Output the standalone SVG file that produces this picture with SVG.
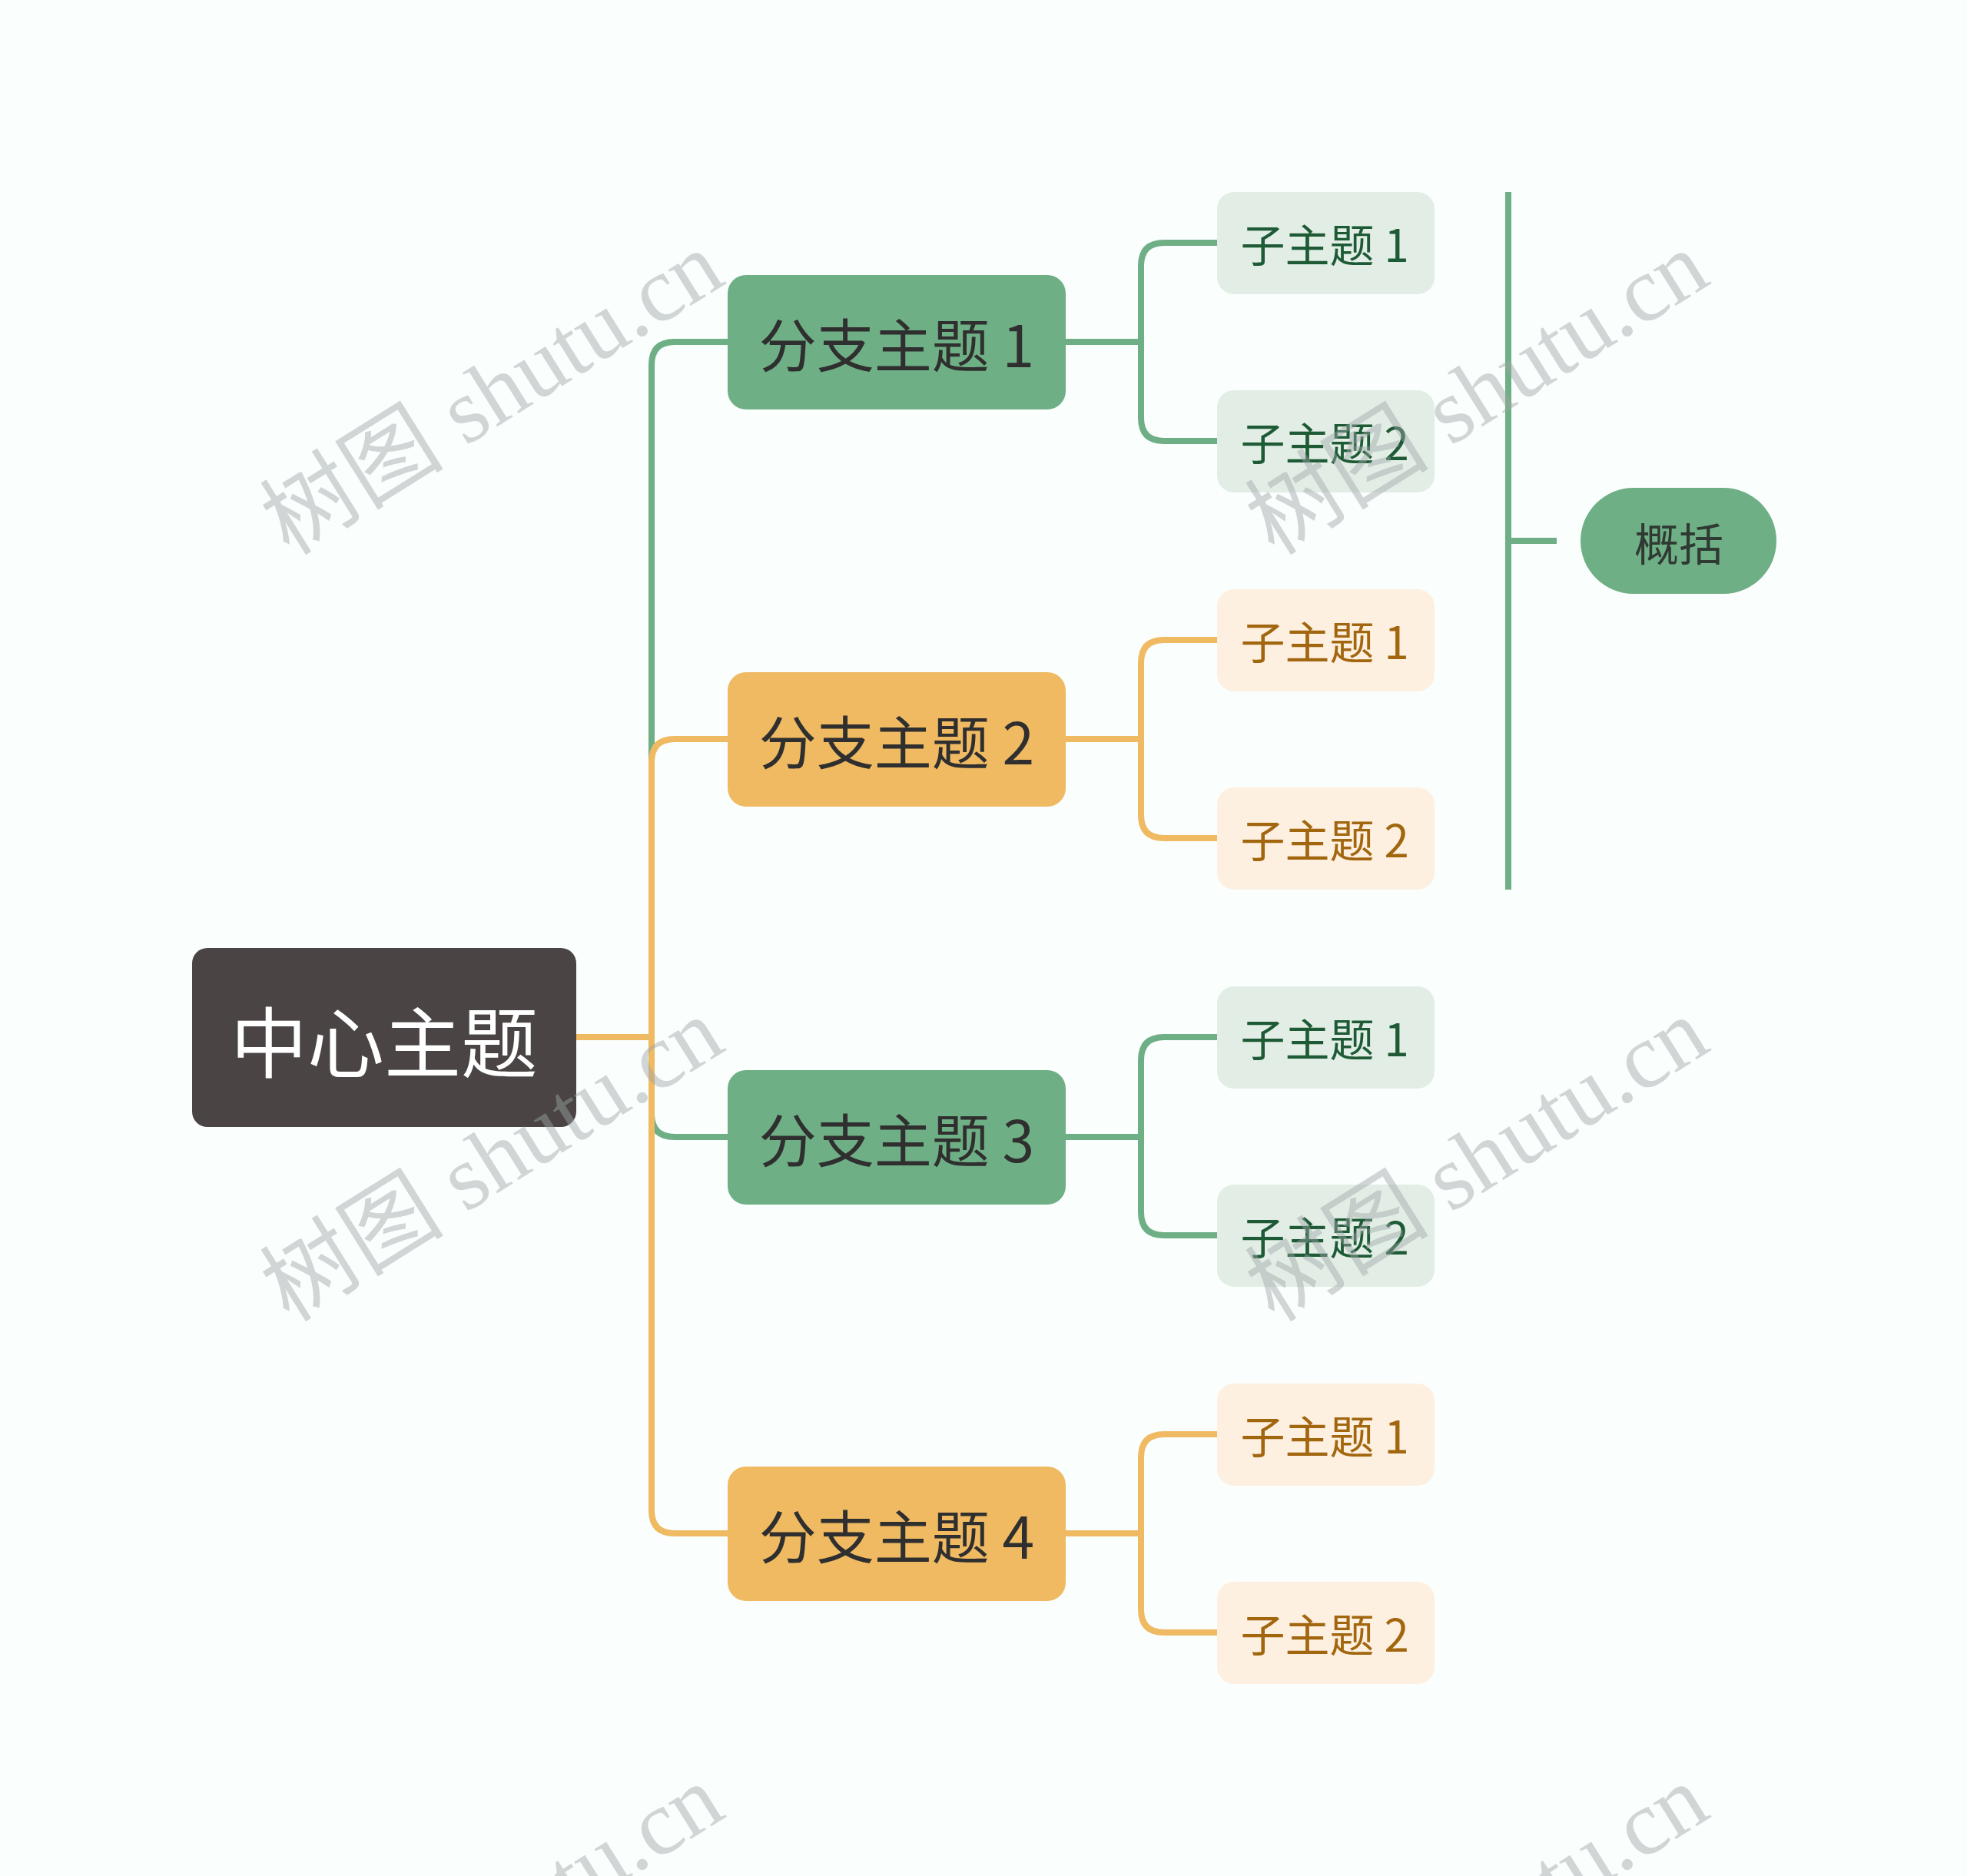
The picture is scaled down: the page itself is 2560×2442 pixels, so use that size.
<svg xmlns="http://www.w3.org/2000/svg" width="2560" height="2442" viewBox="0 0 2560 2442">
<style>
.bg{fill:#FAFEFD}
.cn{fill:none;stroke-width:8;stroke-linecap:butt;stroke-linejoin:round}
.g{stroke:#6FAF85}
.o{stroke:#EFBA62}
.t{font-family:"Noto Sans CJK SC","Noto Sans",sans-serif;text-anchor:middle;dominant-baseline:central}
.center rect{fill:#4A4544}
.center text{fill:#FFFFFF;font-size:100px}
.bg1 rect{fill:#6FAF85}
.bo rect{fill:#EFBA62}
.br text{fill:#2F2F2F;font-size:75px}
.sg rect{fill:#E2EEE5}
.sg text{fill:#1D5A35;font-size:58px}
.so rect{fill:#FDF0E0}
.so text{fill:#A2660F;font-size:58px}
.sum rect{fill:#6FAF85}
.sum text{fill:#2F3A33;font-size:58px}
.wm{font-family:"Liberation Serif","Noto Sans CJK SC",serif;font-size:120px;fill:#9DA3A7;fill-opacity:0.45;text-anchor:middle}
</style>
<rect class="bg" x="0" y="0" width="2560" height="2442"/>
<g id="connectors">
  <path class="cn g" d="M947,445 H878 Q848,445 848,475 V1450 Q848,1480 878,1480 H947"/>
  <path class="cn o" d="M749,1350 H848"/>
  <path class="cn o" d="M947,962 H878 Q848,962 848,992 V1966 Q848,1996 878,1996 H947"/>
  <path class="cn g" d="M1386,445 H1485"/>
  <path class="cn g" d="M1584,316 H1515 Q1485,316 1485,346 V544 Q1485,574 1515,574 H1584"/>
  <path class="cn o" d="M1386,962 H1485"/>
  <path class="cn o" d="M1584,833 H1515 Q1485,833 1485,863 V1061 Q1485,1091 1515,1091 H1584"/>
  <path class="cn g" d="M1386,1480 H1485"/>
  <path class="cn g" d="M1584,1350 H1515 Q1485,1350 1485,1380 V1578 Q1485,1608 1515,1608 H1584"/>
  <path class="cn o" d="M1386,1996 H1485"/>
  <path class="cn o" d="M1584,1867 H1515 Q1485,1867 1485,1897 V2095 Q1485,2125 1515,2125 H1584"/>
  <path class="cn g" stroke-width="7" d="M1963,250 V1158 M1963,704 H2026"/>
</g>
<g id="center" class="center">
  <rect x="250" y="1234" width="500" height="233" rx="20"/>
  <text class="t" x="500" y="1351">中心主题</text>
</g>
<g id="branch1" class="br bg1">
  <rect x="947" y="358" width="440" height="175" rx="24"/>
  <text class="t" x="1167" y="445">分支主题 1</text>
</g>
<g id="branch2" class="br bo">
  <rect x="947" y="875" width="440" height="175" rx="24"/>
  <text class="t" x="1167" y="962">分支主题 2</text>
</g>
<g id="branch3" class="br bg1">
  <rect x="947" y="1393" width="440" height="175" rx="24"/>
  <text class="t" x="1167" y="1480">分支主题 3</text>
</g>
<g id="branch4" class="br bo">
  <rect x="947" y="1909" width="440" height="175" rx="24"/>
  <text class="t" x="1167" y="1996">分支主题 4</text>
</g>
<g id="sub1-1" class="sg">
  <rect x="1584" y="250" width="283" height="133" rx="22"/>
  <text class="t" x="1724" y="316">子主题 1</text>
</g>
<g id="sub1-2" class="sg">
  <rect x="1584" y="508" width="283" height="133" rx="22"/>
  <text class="t" x="1724" y="574">子主题 2</text>
</g>
<g id="sub2-1" class="so">
  <rect x="1584" y="767" width="283" height="133" rx="22"/>
  <text class="t" x="1724" y="833">子主题 1</text>
</g>
<g id="sub2-2" class="so">
  <rect x="1584" y="1025" width="283" height="133" rx="22"/>
  <text class="t" x="1724" y="1091">子主题 2</text>
</g>
<g id="sub3-1" class="sg">
  <rect x="1584" y="1284" width="283" height="133" rx="22"/>
  <text class="t" x="1724" y="1350">子主题 1</text>
</g>
<g id="sub3-2" class="sg">
  <rect x="1584" y="1542" width="283" height="133" rx="22"/>
  <text class="t" x="1724" y="1608">子主题 2</text>
</g>
<g id="sub4-1" class="so">
  <rect x="1584" y="1801" width="283" height="133" rx="22"/>
  <text class="t" x="1724" y="1867">子主题 1</text>
</g>
<g id="sub4-2" class="so">
  <rect x="1584" y="2059" width="283" height="133" rx="22"/>
  <text class="t" x="1724" y="2125">子主题 2</text>
</g>
<g id="summary" class="sum">
  <rect x="2057" y="635" width="255" height="138" rx="69"/>
  <text class="t" x="2185" y="705">概括</text>
</g>
<g id="watermarks">
  <text class="wm" x="662" y="546" transform="rotate(-32 662 546)">树图 shutu.cn</text>
  <text class="wm" x="1944" y="546" transform="rotate(-32 1944 546)">树图 shutu.cn</text>
  <text class="wm" x="662" y="1544" transform="rotate(-32 662 1544)">树图 shutu.cn</text>
  <text class="wm" x="1944" y="1544" transform="rotate(-32 1944 1544)">树图 shutu.cn</text>
  <text class="wm" x="662" y="2542" transform="rotate(-32 662 2542)">树图 shutu.cn</text>
  <text class="wm" x="1944" y="2542" transform="rotate(-32 1944 2542)">树图 shutu.cn</text>
</g>
</svg>
